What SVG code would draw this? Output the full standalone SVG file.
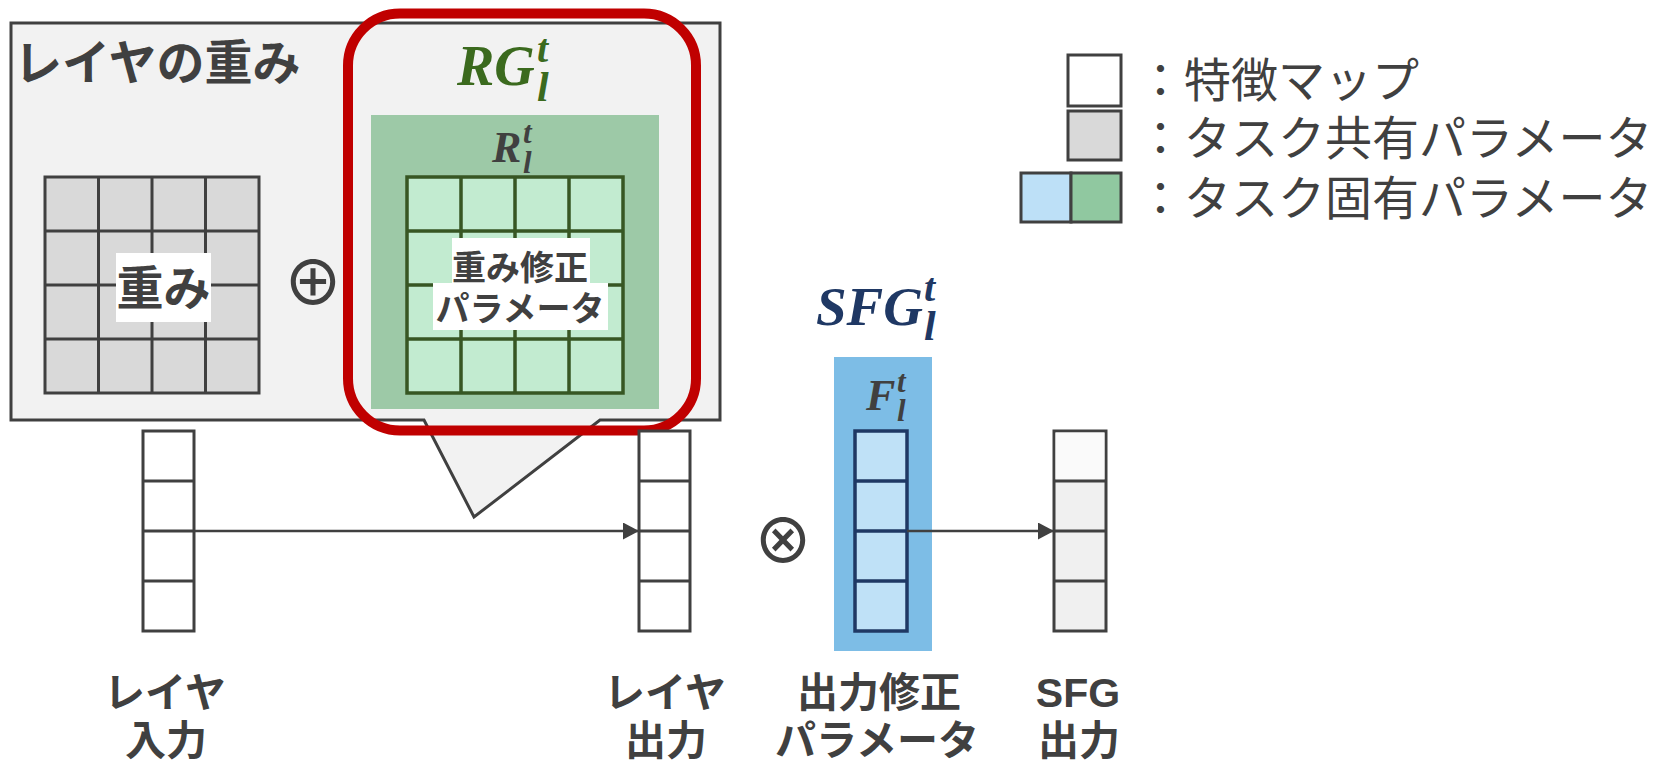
<svg xmlns="http://www.w3.org/2000/svg" width="1665" height="762" viewBox="0 0 1665 762">
<style>
.jp{font-family:"Liberation Sans","Noto Sans CJK JP",sans-serif;fill:#404040}
.b{font-weight:700}
.math{font-family:"Liberation Serif",serif;font-weight:700;font-style:italic}
.cell{stroke:#404040;stroke-width:3}
.gcell{fill:#c2ebd0;stroke:#375623;stroke-width:3.5}
.bcell{fill:#bfe1f7;stroke:#1f3864;stroke-width:3.5}
.conn{stroke:#404040;stroke-width:2.5;fill:none}
.op{font-family:"Noto Sans CJK JP",sans-serif;font-weight:500;fill:#404040}
</style>
<defs>
<marker id="ah" markerUnits="userSpaceOnUse" markerWidth="16" markerHeight="17" refX="16" refY="8.5" orient="auto">
<path d="M0,0 L16,8.5 L0,17 Z" fill="#404040"/>
</marker>
</defs>
<rect width="1665" height="762" fill="#ffffff"/>

<g id="layer-weight-box">
<path d="M11,23 H720 V420 H600 L474,517 L424,420 H11 Z" fill="#f2f2f2" stroke="#404040" stroke-width="3"/>
<text class="jp b" x="14" y="80" font-size="48" fill="#333333">レイヤの重み</text>
</g>

<g id="weight-grid">
<rect x="45" y="177" width="214" height="216" fill="#d9d9d9" class="cell"/>
<path d="M98.5,177 V393 M152,177 V393 M205.5,177 V393 M45,231 H259 M45,285 H259 M45,339 H259" class="cell" fill="none"/>
<rect x="116" y="253" width="95" height="69" fill="#ffffff"/>
<text class="jp b" x="163.5" y="305" font-size="47" text-anchor="middle">重み</text>
</g>

<g id="plus-op">
<text class="op" x="313" y="305" font-size="60" text-anchor="middle">⊕</text>
</g>

<g id="RG">
<rect x="371" y="115" width="288" height="294" fill="#9dc9a7"/>
<text class="math" x="457" y="85" font-size="56" fill="#3b6a1e">RG<tspan font-size="40" x="537" y="62">t</tspan><tspan font-size="42" x="537" y="101">l</tspan></text>
<text class="math" x="492" y="162" font-size="44" fill="#404040">R<tspan font-size="31" x="523" y="143">t</tspan><tspan font-size="31" x="523" y="173">l</tspan></text>
<rect x="407" y="177" width="216" height="216" class="gcell"/>
<path d="M461,177 V393 M515,177 V393 M569,177 V393 M407,231 H623 M407,285 H623 M407,339 H623" class="gcell" fill="none"/>
<rect x="452" y="238" width="138" height="47" fill="#ffffff"/>
<rect x="433" y="283" width="175" height="47" fill="#ffffff"/>
<text class="jp b" x="520" y="280" font-size="34" text-anchor="middle">重み修正</text>
<text class="jp b" x="520" y="321" font-size="34" text-anchor="middle">パラメータ</text>
<rect x="348" y="13.5" width="348" height="417" rx="52" fill="none" stroke="#c00000" stroke-width="10"/>
</g>

<g id="layer-input">
<rect x="143" y="431" width="51" height="200" fill="#ffffff" class="cell"/>
<path d="M143,481 H194 M143,531 H194 M143,581 H194" class="cell"/>
<text class="jp b" x="165" y="707" font-size="41" text-anchor="middle">レイヤ</text>
<text class="jp b" x="166" y="755" font-size="41" text-anchor="middle">入力</text>
</g>

<g id="layer-output">
<rect x="639" y="431" width="51" height="200" fill="#ffffff" class="cell"/>
<path d="M639,481 H690 M639,531 H690 M639,581 H690" class="cell"/>
<text class="jp b" x="665" y="707" font-size="41" text-anchor="middle">レイヤ</text>
<text class="jp b" x="666" y="755" font-size="41" text-anchor="middle">出力</text>
</g>

<g id="times-op">
<text class="op" x="783" y="563" font-size="60" text-anchor="middle">⊗</text>
</g>

<g id="SFG">
<text class="math" x="816" y="325" font-size="55" fill="#1f3864">SFG<tspan font-size="40" x="924" y="301">t</tspan><tspan font-size="42" x="924" y="340">l</tspan></text>
<rect x="834" y="357" width="98" height="294" fill="#7dbde6"/>
<text class="math" x="866" y="410" font-size="44" fill="#404040">F<tspan font-size="31" x="897" y="392">t</tspan><tspan font-size="31" x="897" y="421">l</tspan></text>
<rect x="855" y="431" width="52" height="200" class="bcell"/>
<path d="M855,481 H907 M855,531 H907 M855,581 H907" class="bcell"/>
<text class="jp b" x="879" y="707" font-size="41" text-anchor="middle">出力修正</text>
<text class="jp b" x="877" y="755" font-size="41" text-anchor="middle">パラメータ</text>
</g>

<g id="sfg-output">
<rect x="1054" y="431" width="52" height="200" fill="#f0f0f0" class="cell"/>
<rect x="1055.5" y="432.5" width="49" height="47" fill="#fafafa"/>
<path d="M1054,481 H1106 M1054,531 H1106 M1054,581 H1106" class="cell"/>
<text class="jp b" x="1078" y="707" font-size="41" text-anchor="middle">SFG</text>
<text class="jp b" x="1079" y="755" font-size="41" text-anchor="middle">出力</text>
</g>

<g id="connectors">
<line x1="194" y1="531" x2="639" y2="531" class="conn" marker-end="url(#ah)"/>
<line x1="907" y1="531" x2="1054" y2="531" class="conn" marker-end="url(#ah)"/>
</g>

<g id="legend">
<rect x="1068" y="55" width="53" height="51" fill="#ffffff" class="cell"/>
<rect x="1068" y="111" width="53" height="49" fill="#d9d9d9" class="cell"/>
<rect x="1021" y="173" width="50" height="49" fill="#bde0f7" class="cell"/>
<rect x="1071" y="173" width="50" height="49" fill="#90c8a0" class="cell"/>
<text class="jp" x="1137" y="97" font-size="47">：特徴マップ</text>
<text class="jp" x="1137" y="155" font-size="47">：タスク共有パラメータ</text>
<text class="jp" x="1137" y="215" font-size="47">：タスク固有パラメータ</text>
</g>
</svg>
